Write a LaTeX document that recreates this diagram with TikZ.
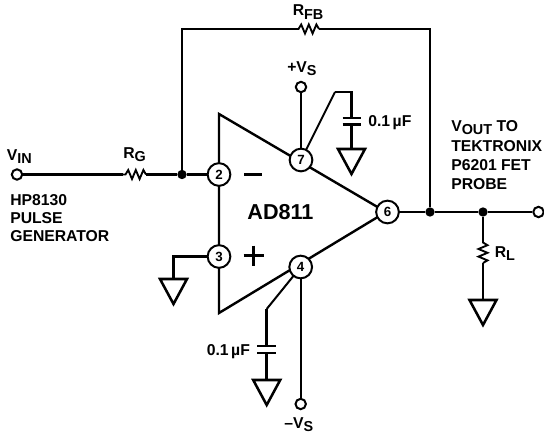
\documentclass[tikz,border=0pt]{standalone}
\usepackage{fontspec}
\setmainfont{Liberation Sans}[BoldFont={Liberation Sans Bold}]
\newcommand{\sbs}[1]{\raisebox{-0.42ex}{\fontsize{10.8}{12}\selectfont #1}}
\tikzset{
  wire/.style={line width=2pt,line join=miter},
  zig/.style={line width=1.4pt,line join=miter},
  thinwire/.style={line width=1.5pt},
  signs/.style={line width=1.6pt},
  pin/.style={circle,draw,fill=white,line width=1.5pt,minimum size=17pt,inner sep=0pt,font=\fontsize{10}{12}\selectfont\bfseries},
  term/.style={circle,draw,fill=white,line width=1.5pt,minimum size=7.8pt,inner sep=0pt},
  dot/.style={circle,fill=black,minimum size=7pt,inner sep=0pt},
  lab/.style={inner sep=0pt,font=\fontsize{11.8}{14}\selectfont\bfseries,align=left},
  gnd/.style={line width=1.9pt,line join=miter,fill=white},
  plate/.style={line width=1.9pt}
}
\begin{document}
\begin{tikzpicture}[x=0.75pt,y=-0.75pt]
\useasboundingbox (0,0) rectangle (544,439);
% op-amp body
\draw[line width=1.8pt,line join=miter] (219,114) -- (386,212) -- (219,313) -- cycle;
% named points
\coordinate (rga) at (123,174.5); \coordinate (rgb) at (146,174.5);
\coordinate (fbtl) at (182,29); \coordinate (fba) at (296,29); \coordinate (fbb) at (319,29); \coordinate (fbtr) at (430,29);
\coordinate (rla) at (483,240); \coordinate (rlb) at (483,263);
\coordinate (gl) at (173.5,256.5); \coordinate (g3) at (173.5,279);
\coordinate (g7) at (351.5,149); \coordinate (g4) at (266.7,380); \coordinate (gr) at (483,300);
\coordinate (c7k) at (335,92); \coordinate (c7c) at (351.5,92);
\coordinate (c7a) at (351.5,118); \coordinate (c7b) at (351.5,124.5);
\coordinate (c4k) at (266.7,309);
\coordinate (c4a) at (266.7,346); \coordinate (c4b) at (266.7,353);
% junctions and terminals
\node[term] (vin) at (17,174.5) {};
\node[term] (vout) at (538.5,212) {};
\node[term] (vp) at (301,87) {};
\node[term] (vm) at (300.7,404) {};
\node[dot] (j1) at (182,174.5) {};
\node[dot] (j2) at (430,212) {};
\node[dot] (j3) at (483,212) {};
\coordinate (p2) at (219,174.5); \coordinate (p3) at (219,256.5);
\coordinate (p4) at (300.7,267); \coordinate (p7) at (301,160); \coordinate (p6) at (387.5,212);
% wires
\draw[wire] (vin) -- (rga);
\draw[zig] (rga) -- ++(2.5,0) -- ++(2.7,-4.5) -- ++(3.8,9) -- ++(3.8,-9) -- ++(3.8,9) -- ++(3.8,-9) -- (rgb);
\draw[wire] (rgb) -- (j1);
\draw[wire] (j1) -- (p2);
\draw[wire] (j1) -- (fbtl) -- (fba);
\draw[zig] (fba) -- ++(2.5,0) -- ++(2.7,-4.5) -- ++(3.8,9) -- ++(3.8,-9) -- ++(3.8,9) -- ++(3.8,-9) -- (fbb);
\draw[wire] (fbb) -- (fbtr) -- (j2);
\draw[wire] (p6) -- (j2) -- (j3) -- (vout);
\draw[wire] (j3) -- (rla);
\draw[zig] (rla) -- ++(0,2.5) -- ++(4.5,2.7) -- ++(-9,3.8) -- ++(9,3.8) -- ++(-9,3.8) -- ++(9,3.8) -- (rlb);
\draw[wire] (rlb) -- (gr);
\draw[gnd] (469.5,300) -- (496.5,300) -- (483,325) -- cycle;
% pin 3 ground
\draw[wire] (p3) -- (gl) -- (g3);
\draw[gnd] (160,279) -- (187,279) -- (173.5,304) -- cycle;
% pin 7
\draw[thinwire] (p7) -- (vp);
\draw[thinwire] (p7) -- (c7k);
\draw[wire] (c7k) -- (c7c) -- (c7a);
\draw[plate] (342.5,118) -- (361,118);
\draw[plate] (342.5,124.5) -- (361,124.5);
\draw[wire] (c7b) -- (g7);
\draw[gnd] (338,149) -- (365,149) -- (351.5,174) -- cycle;
% pin 4
\draw[thinwire] (p4) -- (vm);
\draw[thinwire] (p4) -- (c4k);
\draw[wire] (c4k) -- (c4a);
\draw[plate] (257,346) -- (276,346);
\draw[plate] (257,353) -- (276,353);
\draw[wire] (c4b) -- (g4);
\draw[gnd] (253.2,380) -- (280.2,380) -- (266.7,405) -- cycle;
% pins
\node[pin] (n2) at (p2) {2};
\node[pin] (n3) at (p3) {3};
\node[pin] (n4) at (p4) {4};
\node[pin] (n7) at (p7) {7};
\node[pin] (n6) at (p6) {6};
% input signs
\draw[signs] (244,174.5) -- (262,174.5);
\draw[signs] (243.5,255.5) -- (263.5,255.5);
\draw[signs] (253.5,245.5) -- (253.5,265.5);
% labels
\node[lab,font=\fontsize{16.2}{18}\selectfont\bfseries] (ad) at (280.5,212) {AD811};
\node[lab,anchor=base west] (lvin) at (6.5,160) {V\sbs{IN}};
\node[lab,anchor=base west] (lrg) at (123,158) {R\sbs{G}};
\node[lab,anchor=base west] (lrfb) at (292.5,16) {R\sbs{FB}};
\node[lab,anchor=base west] (lvs) at (287,72) {+V\sbs{S}};
\node[lab,anchor=base west] (lc7) at (368,126) {0.1\,µF};
\node[lab,anchor=base west] (lc4) at (206.5,355) {0.1\,µF};
\node[lab,anchor=base west] (lvsm) at (284,428) {–V\sbs{S}};
\node[lab,anchor=base west] (lrl) at (494.5,257) {R\sbs{L}};
\node[lab,anchor=base west] (lhp) at (10,205) {HP8130};
\node[lab,anchor=base west] (lpu) at (10,223) {PULSE};
\node[lab,anchor=base west] (lge) at (10,241) {GENERATOR};
\node[lab,anchor=base west] (lvo) at (451,131) {V\sbs{OUT} TO};
\node[lab,anchor=base west] (lte) at (451,151.5) {TEKTRONIX};
\node[lab,anchor=base west] (lp6) at (451,171) {P6201 FET};
\node[lab,anchor=base west] (lpr) at (451,190) {PROBE};
\end{tikzpicture}
\end{document}
